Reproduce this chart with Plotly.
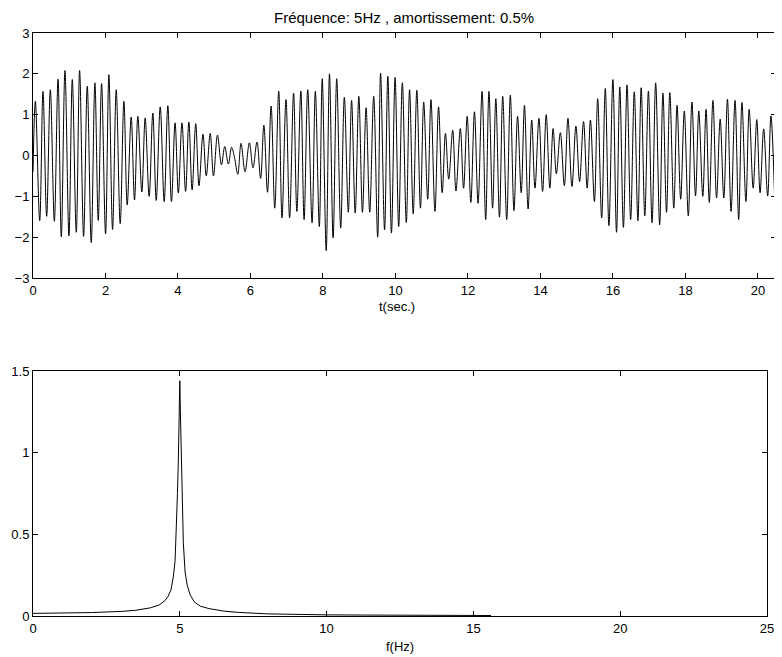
import plotly.graph_objects as go

# ---- time signal: successive extrema (t in s, value) ----
t_ext = [0.00, 0.065, 0.185, 0.276, 0.377, 0.478, 0.589, 0.690, 0.781, 0.882, 0.992,
         1.084, 1.194, 1.286, 1.396, 1.497, 1.607, 1.708, 1.800, 1.892, 2.002,
         2.094, 2.195, 2.296, 2.406, 2.508, 2.599, 2.709, 2.801, 2.893, 3.003,
         3.095, 3.205, 3.306, 3.40, 3.51, 3.62, 3.72, 3.82, 3.92, 4.01,
         4.11, 4.21, 4.30, 4.39, 4.49, 4.58, 4.69, 4.78, 4.89, 4.98,
         5.09, 5.20, 5.29, 5.39, 5.48, 5.56, 5.65, 5.74, 5.85, 5.97,
         6.07, 6.18, 6.28, 6.37, 6.47, 6.57, 6.67, 6.78, 6.87, 6.98,
         7.08, 7.19, 7.28, 7.39, 7.48, 7.58, 7.70, 7.79, 7.90, 7.98,
         8.09, 8.18, 8.28, 8.38, 8.49, 8.59, 8.70, 8.79, 8.89, 8.99,
         9.09, 9.19, 9.29, 9.40, 9.51, 9.59, 9.70, 9.79, 9.89, 9.99,
         10.09, 10.19, 10.30, 10.39, 10.49, 10.59, 10.69, 10.78, 10.89, 10.98,
         11.09, 11.19, 11.29, 11.38, 11.47, 11.58, 11.67, 11.79, 11.88, 11.98,
         12.08, 12.18, 12.28, 12.39, 12.49, 12.58, 12.68, 12.77, 12.87, 12.96,
         13.07, 13.17, 13.27, 13.37, 13.47, 13.56, 13.66, 13.76, 13.85, 13.96,
         14.06, 14.16, 14.26, 14.35, 14.44, 14.55, 14.66, 14.76, 14.87, 14.98,
         15.08, 15.19, 15.29, 15.38, 15.49, 15.58, 15.69, 15.79, 15.89, 16.00,
         16.10, 16.19, 16.29, 16.39, 16.49, 16.59, 16.69, 16.78, 16.88, 16.98,
         17.08, 17.18, 17.29, 17.38, 17.48, 17.57, 17.68, 17.77, 17.87, 17.97,
         18.08, 18.18, 18.28, 18.37, 18.48, 18.57, 18.66, 18.76, 18.86, 18.96,
         19.06, 19.16, 19.26, 19.37, 19.47, 19.56, 19.67, 19.76, 19.87, 19.97,
         20.06, 20.16, 20.27, 20.36, 20.47]
y_ext = [-0.40, 1.33, -1.60, 1.57, -1.49, 1.61, -1.61, 1.87, -1.99, 2.08, -1.97,
         1.86, -1.88, 2.08, -1.98, 1.70, -2.13, 1.78, -1.59, 1.76, -1.92,
         1.98, -1.81, 1.61, -1.67, 1.33, -1.21, 0.94, -1.09, 0.96, -0.89,
         0.92, -1.00, 1.04, -1.10, 1.19, -1.13, 1.22, -1.13, 0.80, -0.92,
         0.80, -0.88, 0.82, -0.84, 0.78, -0.74, 0.52, -0.50, 0.54, -0.50,
         0.50, -0.23, 0.22, -0.21, 0.20, -0.05, -0.46, 0.30, -0.40, 0.31,
         -0.30, 0.33, -0.56, 0.74, -0.90, 1.21, -1.29, 1.58, -1.53, 1.37,
         -1.53, 1.53, -1.37, 1.58, -1.57, 1.61, -1.65, 1.57, -1.74, 1.88,
         -2.33, 2.00, -2.02, 1.88, -1.78, 1.43, -1.39, 1.35, -1.41, 1.45,
         -1.39, 1.17, -1.39, 1.45, -2.00, 2.02, -1.82, 1.94, -1.90, 1.91,
         -1.74, 1.78, -1.64, 1.61, -1.43, 1.60, -1.29, 1.31, -1.07, 1.37,
         -1.37, 1.19, -0.91, 0.54, -0.58, 0.62, -0.87, 0.66, -0.80, 0.96,
         -1.15, 1.07, -1.17, 1.57, -1.57, 1.57, -1.29, 1.39, -1.51, 1.45,
         -1.57, 1.48, -1.35, 0.96, -0.91, 1.23, -1.31, 0.87, -0.80, 0.91,
         -0.88, 1.00, -0.80, 0.66, -0.45, 0.56, -0.74, 0.91, -0.76, 0.72,
         -0.64, 0.83, -0.80, 0.87, -1.13, 1.39, -1.53, 1.64, -1.72, 1.86,
         -1.88, 1.68, -1.76, 1.73, -1.57, 1.56, -1.60, 1.66, -1.48, 1.58,
         -1.65, 1.78, -1.70, 1.53, -1.39, 1.54, -1.29, 1.23, -1.07, 1.09,
         -1.48, 1.31, -0.99, 1.09, -1.00, 1.13, -1.15, 1.35, -1.04, 0.89,
         -1.04, 1.38, -1.37, 1.35, -1.57, 1.30, -1.13, 1.13, -0.80, 0.88,
         -0.91, 0.65, -0.99, 0.97, -1.29]

# ---- spectrum ----
f_spec = [0, 1, 2, 3, 3.5, 4.0, 4.3, 4.5, 4.6, 4.7, 4.78, 4.84, 4.88, 4.92, 4.95,
          4.98, 5.0, 5.02, 5.05, 5.08, 5.12, 5.18, 5.25, 5.35, 5.5, 5.7, 6.0, 6.5,
          7.0, 8.0, 9.0, 10, 11, 12, 13, 14, 15, 15.6]
a_spec = [0.016, 0.018, 0.021, 0.028, 0.035, 0.05, 0.068, 0.095, 0.12, 0.16, 0.24,
          0.34, 0.5, 0.75, 0.95, 1.25, 1.44, 1.25, 0.95, 0.70, 0.45, 0.27, 0.19,
          0.13, 0.085, 0.06, 0.045, 0.03, 0.022, 0.013, 0.009, 0.007, 0.006,
          0.005, 0.0045, 0.004, 0.0035, 0.003]

top_xticks = [0, 2, 4, 6, 8, 10, 12, 14, 16, 18, 20]
top_yticks = [-3, -2, -1, 0, 1, 2, 3]
bot_xticks = [0, 5, 10, 15, 20, 25]
bot_yticks = [0, 0.5, 1, 1.5]

title_text = "Fréquence: 5Hz , amortissement: 0.5%"
xlabel_top = "t(sec.)"
xlabel_bot = "f(Hz)"

W, H = 782, 657
OFF = 8  # page body margin: figure is drawn 8 px right/down in the window
FONT = "Liberation Sans, Arial, Helvetica, sans-serif"

fig = go.Figure()
fig.add_trace(go.Scatter(x=t_ext, y=y_ext, mode="lines",
                         line=dict(color="black", width=1, shape="spline", smoothing=1.0),
                         xaxis="x", yaxis="y", showlegend=False, hoverinfo="skip"))
fig.add_trace(go.Scatter(x=f_spec, y=a_spec, mode="lines",
                         line=dict(color="black", width=1),
                         xaxis="x2", yaxis="y2", showlegend=False, hoverinfo="skip"))

common = dict(showline=True, linecolor="black", linewidth=1, mirror="allticks",
              ticks="inside", ticklen=5, tickcolor="black", tickwidth=1,
              showgrid=False, zeroline=False, automargin=False,
              tickfont=dict(family=FONT, size=13, color="black"))

def px_x(p):
    return (p - OFF) / W

def px_y(p):
    return (H - (p - OFF)) / H

def label(text, x, y, size):
    return dict(text=text, x=px_x(x), y=px_y(y), xref="paper", yref="paper",
                xanchor="center", yanchor="middle", showarrow=False,
                font=dict(family=FONT, size=size, color="black"))

title_ann = dict(text=title_text, x=px_x(404), y=1.0, xref="paper", yref="paper",
                 xanchor="center", yanchor="top", showarrow=False, borderpad=0,
                 font=dict(family=FONT, size=15, color="black"))

fig.update_layout(
    width=W, height=H, margin=dict(l=0, r=0, t=0, b=0, pad=0), autosize=False,
    paper_bgcolor="white", plot_bgcolor="white",
    xaxis=dict(domain=[px_x(33), px_x(776)], range=[0, 20.5], tickvals=top_xticks,
               anchor="y", **common),
    yaxis=dict(domain=[px_y(278), px_y(33)], range=[-3, 3], tickvals=top_yticks,
               anchor="x", **common),
    xaxis2=dict(domain=[px_x(33), px_x(767)], range=[0, 25], tickvals=bot_xticks,
                anchor="y2", **common),
    yaxis2=dict(domain=[px_y(616), px_y(371)], range=[0, 1.5], tickvals=bot_yticks,
                ticktext=["0", "0.5", "1", "1.5"], anchor="x2", **common),
    annotations=[
        title_ann,
        label(xlabel_top, 397, 306, 13),
        label(xlabel_bot, 400, 646, 13),
    ],
)

fig.write_html("out.html")
